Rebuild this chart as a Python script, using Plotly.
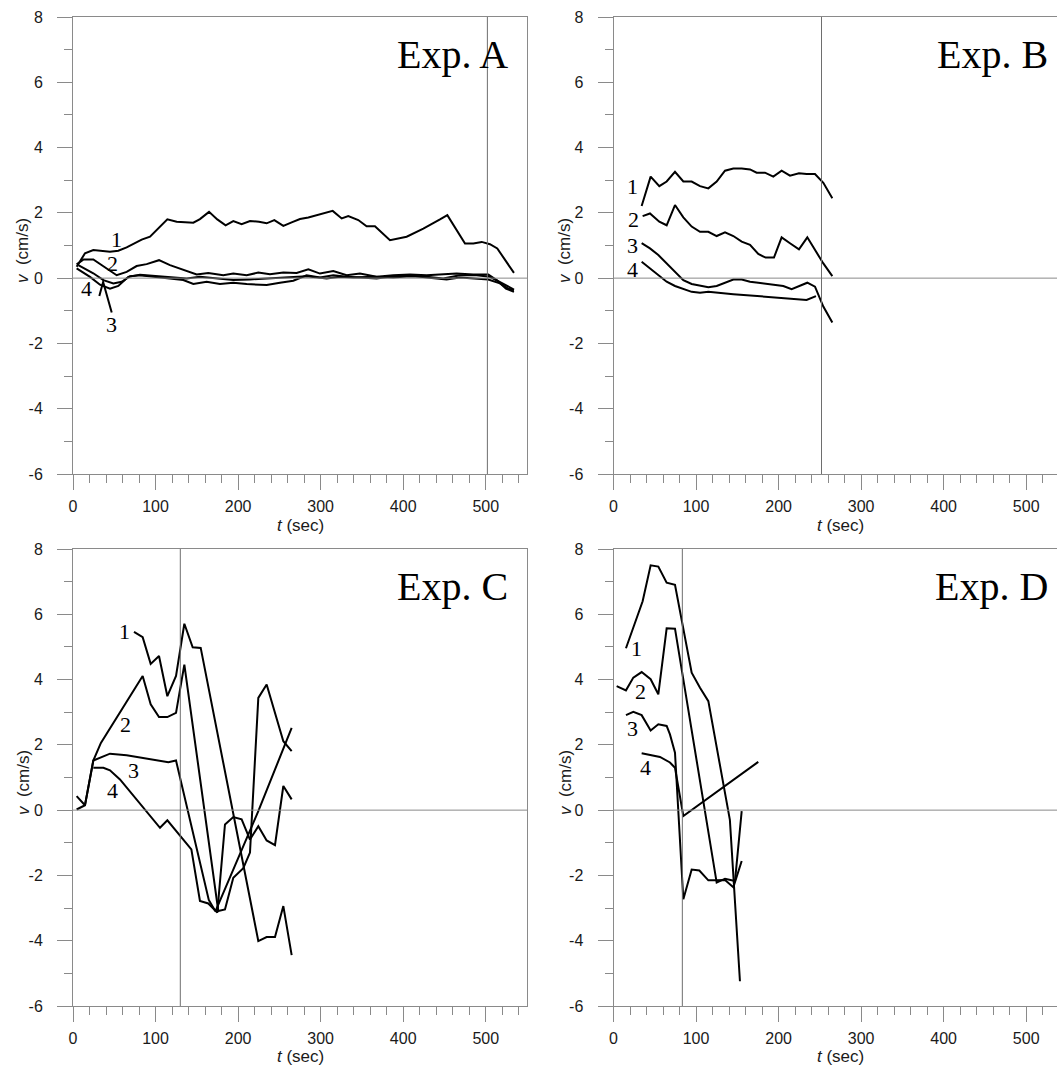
import plotly.graph_objects as go

# ---------------- data (t in sec, v in cm/s) ----------------
# Exp. A
A1_t = [4.4, 14.5, 24.6, 44.8, 54.9, 65.0, 83.2, 93.3, 114.3, 125.6, 145.8, 153.8, 164.8, 174.8, 184.9, 194.2, 204.3, 214.4, 225.3, 234.6, 243.9, 254.8, 264.9, 275.0, 285.1, 295.2, 305.3, 314.6, 325.5, 333.5, 345.6, 355.7, 365.8, 384.0, 404.2, 424.4, 444.6, 453.5, 474.9, 485.0, 495.1, 505.1, 514.0, 524.5, 534.2]
A1_v = [0.35, 0.76, 0.86, 0.81, 0.84, 0.94, 1.18, 1.27, 1.80, 1.73, 1.70, 1.81, 2.03, 1.80, 1.62, 1.75, 1.65, 1.75, 1.73, 1.68, 1.78, 1.60, 1.71, 1.81, 1.86, 1.93, 2.00, 2.06, 1.83, 1.90, 1.78, 1.59, 1.59, 1.16, 1.27, 1.52, 1.80, 1.93, 1.06, 1.06, 1.11, 1.04, 0.91, 0.50, 0.16]
A2_t = [4.4, 12.8, 24.6, 38.8, 52.9, 65.0, 77.1, 89.2, 104.2, 117.5, 133.6, 149.8, 163.9, 182.1, 194.2, 210.4, 224.5, 238.6, 254.8, 270.9, 285.1, 299.2, 315.3, 331.5, 347.6, 367.8, 388.0, 408.2, 428.4, 448.6, 464.7, 484.9, 503.1, 513.2, 524.5, 534.2]
A2_v = [0.42, 0.57, 0.57, 0.33, 0.09, 0.19, 0.37, 0.43, 0.55, 0.40, 0.25, 0.11, 0.16, 0.09, 0.14, 0.09, 0.17, 0.12, 0.17, 0.16, 0.27, 0.14, 0.22, 0.09, 0.14, 0.04, 0.09, 0.11, 0.09, 0.12, 0.14, 0.11, 0.11, -0.06, -0.32, -0.42]
A3_t = [6.4, 24.6, 36.8, 48.9, 59.0, 69.1, 81.2, 101.3, 117.5, 133.6, 145.8, 161.9, 178.0, 194.2, 210.4, 234.6, 250.7, 266.9, 283.0, 299.2, 315.3, 331.5, 347.6, 367.8, 388.0, 408.2, 428.4, 452.6, 468.7, 488.9, 503.1, 517.2, 527.3, 534.2]
A3_v = [0.40, 0.15, -0.06, -0.16, -0.11, 0.06, 0.09, 0.04, -0.01, -0.06, -0.18, -0.11, -0.18, -0.14, -0.18, -0.21, -0.14, -0.08, 0.09, 0.02, 0.09, 0.04, 0.02, -0.01, 0.06, 0.09, 0.02, -0.04, 0.02, -0.01, -0.04, -0.16, -0.32, -0.37]
A4_t = [4.4, 20.6, 32.7, 44.8, 54.9, 67.0, 81.2, 101.3, 121.5, 137.7, 153.8, 174.0, 194.2, 214.4, 234.6, 258.8, 283.0, 307.3, 323.4, 339.5, 363.8, 388.0, 408.2, 428.4, 448.6, 468.7, 488.9, 505.1, 521.3, 534.2]
A4_v = [0.30, 0.04, -0.20, -0.32, -0.24, 0.04, 0.10, 0.06, 0.04, -0.01, 0.04, -0.01, -0.06, -0.04, -0.01, 0.02, 0.06, -0.01, 0.04, 0.02, 0.04, 0.02, 0.06, 0.04, -0.01, 0.09, 0.09, 0.04, -0.18, -0.35]

# Exp. B
B1_t = [34.1, 45.0, 55.5, 64.4, 74.5, 84.6, 94.7, 104.8, 114.9, 125.0, 135.1, 145.2, 155.3, 165.4, 173.4, 183.5, 193.6, 203.7, 213.8, 224.7, 234.0, 244.1, 254.2, 265.1]
B1_v = [2.21, 3.11, 2.82, 2.96, 3.26, 2.96, 2.96, 2.82, 2.75, 2.96, 3.29, 3.36, 3.36, 3.33, 3.23, 3.23, 3.11, 3.29, 3.14, 3.21, 3.19, 3.19, 2.92, 2.45]
B2_t = [35.3, 44.2, 55.5, 64.4, 74.5, 84.6, 94.7, 104.8, 114.9, 125.0, 135.1, 145.2, 155.3, 165.4, 175.4, 184.3, 194.4, 203.7, 213.8, 224.7, 234.8, 244.1, 254.2, 265.1]
B2_v = [1.90, 1.98, 1.73, 1.62, 2.24, 1.86, 1.58, 1.42, 1.42, 1.29, 1.40, 1.29, 1.12, 1.02, 0.74, 0.63, 0.63, 1.25, 1.07, 0.88, 1.25, 0.86, 0.45, 0.06]
B3_t = [34.1, 44.2, 54.3, 64.4, 74.5, 84.6, 94.7, 104.8, 114.9, 125.0, 135.1, 145.2, 155.3, 165.4, 175.4, 185.5, 195.6, 205.7, 215.8, 225.9, 234.8, 244.1, 254.2, 265.1]
B3_v = [1.07, 0.91, 0.71, 0.45, 0.20, -0.06, -0.18, -0.24, -0.28, -0.24, -0.14, -0.04, -0.04, -0.11, -0.14, -0.18, -0.21, -0.24, -0.34, -0.24, -0.14, -0.26, -0.87, -1.36]
B4_t = [34.1, 44.2, 54.3, 64.4, 74.5, 84.6, 94.7, 104.8, 114.9, 145.2, 185.5, 209.7, 233.9, 245.3]
B4_v = [0.50, 0.30, 0.09, -0.11, -0.24, -0.34, -0.42, -0.45, -0.42, -0.49, -0.57, -0.62, -0.67, -0.55]

# Exp. C
C1_t = [73.9, 84.4, 94.1, 104.2, 114.3, 124.8, 134.9, 145.0, 154.7, 224.5, 234.6, 244.7, 254.8, 264.9]
C1_v = [5.46, 5.30, 4.48, 4.72, 3.49, 4.11, 5.71, 4.99, 4.97, -4.01, -3.89, -3.89, -2.94, -4.44]
C2_t = [4.4, 14.5, 24.6, 33.8, 84.4, 94.1, 104.2, 114.3, 124.8, 134.9, 176.0, 184.1, 194.2, 206.3, 214.4, 224.5, 234.6, 254.8, 264.9]
C2_v = [0.02, 0.15, 1.52, 2.06, 4.11, 3.24, 2.85, 2.85, 2.98, 4.46, -3.09, -3.04, -2.07, -1.78, -1.30, 3.44, 3.85, 2.11, 1.81]
C3_t = [4.4, 14.5, 24.6, 44.8, 65.0, 115.5, 124.8, 164.5, 172.5, 224.5, 264.9]
C3_v = [0.43, 0.15, 1.52, 1.73, 1.68, 1.47, 1.52, -2.75, -3.10, -0.03, 2.52]
C4_t = [24.6, 36.8, 44.8, 56.9, 105.4, 114.3, 143.4, 153.8, 163.9, 174.8, 184.1, 194.2, 204.3, 214.4, 224.5, 234.6, 244.7, 254.8, 264.9]
C4_v = [1.30, 1.30, 1.22, 0.94, -0.54, -0.31, -1.20, -2.78, -2.86, -3.14, -0.44, -0.21, -0.28, -0.90, -0.49, -0.93, -1.07, 0.74, 0.33]

# Exp. D
D1_t = [15.1, 35.3, 45.0, 54.3, 64.4, 74.5, 94.7, 104.8, 114.9, 141.0, 153.2]
D1_v = [4.96, 6.40, 7.50, 7.46, 6.97, 6.90, 4.21, 3.75, 3.34, -0.30, -5.24]
D2_t = [3.8, 15.1, 24.0, 34.1, 45.0, 54.3, 64.4, 74.5, 125.0, 135.1, 147.2, 155.3]
D2_v = [3.80, 3.67, 4.06, 4.23, 4.01, 3.55, 5.57, 5.56, -2.22, -2.10, -2.17, -0.03]
D3_t = [15.1, 24.0, 34.1, 45.0, 54.3, 64.4, 68.4, 74.5, 84.6, 94.7, 104.0, 114.9, 125.0, 135.1, 145.2, 155.3]
D3_v = [2.91, 3.01, 2.91, 2.44, 2.63, 2.58, 2.32, 1.76, -2.73, -1.82, -1.85, -2.15, -2.15, -2.14, -2.36, -1.56]
D4_t = [34.1, 56.3, 68.4, 74.5, 84.6, 175.4]
D4_v = [1.74, 1.63, 1.46, 1.30, -0.18, 1.48]

panel_names = ["Exp. A", "Exp. B", "Exp. C", "Exp. D"]
marker_t = [502, 252, 130, 83.4]          # thin vertical reference line per panel
curve_label_t = [[52.9, 48.1, 46.9, 16.6], [23.3, 24.0, 23.3, 23.3],
                 [61.8, 63.8, 73.1, 47.6], [27.3, 32.1, 22.8, 38.2]]
curve_label_v = [[1.17, 0.45, -1.43, -0.31], [2.82, 1.80, 1.01, 0.25],
                 [5.47, 2.63, 1.22, 0.59], [4.96, 3.65, 2.51, 1.32]]
curve_names = ["1", "2", "3", "4"]
x_ticks = [0, 100, 200, 300, 400, 500]
y_ticks = [-6, -4, -2, 0, 2, 4, 6, 8]
y_ticktext = ["-6", "-4", "-2", "0", "2", "4", "6", "8"]

series = [
    [(A1_t, A1_v), (A2_t, A2_v), (A3_t, A3_v), (A4_t, A4_v)],
    [(B1_t, B1_v), (B2_t, B2_v), (B3_t, B3_v), (B4_t, B4_v)],
    [(C1_t, C1_v), (C2_t, C2_v), (C3_t, C3_v), (C4_t, C4_v)],
    [(D1_t, D1_v), (D2_t, D2_v), (D3_t, D3_v), (D4_t, D4_v)],
]

# ---------------- layout geometry ----------------
W, H = 1057, 1066
def px2fx(p): return p / W
def py2fy(p): return 1 - p / H

left_dom = [px2fx(73), px2fx(527)]
right_dom = [px2fx(613.5), 1.0]
top_dom = [py2fy(474), py2fy(17)]
bot_dom = [py2fy(1006), py2fy(549)]
x_doms = [left_dom, right_dom, left_dom, right_dom]
y_doms = [top_dom, top_dom, bot_dom, bot_dom]
x_ranges = [[0, 550], [0, 537.3], [0, 550], [0, 537.3]]
xtitle_px = [(300, 525), (840, 525), (300, 1056), (840, 1056)]
ytitle_px = [(23, 251), (565, 251), (23, 783), (565, 783)]

GRAY = "#8a8a8a"
SANS = "Arial, Liberation Sans, sans-serif"
TICKFONT = dict(family=SANS, size=16, color="#1a1a1a")
TITLEFONT = dict(family=SANS, size=17, color="#1a1a1a")
SERIF = "Times New Roman, Liberation Serif, serif"

fig = go.Figure()
layout = dict(width=W, height=H, margin=dict(l=0, r=0, t=0, b=0),
              plot_bgcolor="white", paper_bgcolor="white", showlegend=False)
annotations = []
shapes = []

for i in range(4):
    xa = "x" if i == 0 else f"x{i+1}"
    ya = "y" if i == 0 else f"y{i+1}"
    xkey = "xaxis" if i == 0 else f"xaxis{i+1}"
    ykey = "yaxis" if i == 0 else f"yaxis{i+1}"
    for (t, v) in series[i]:
        fig.add_trace(go.Scatter(x=t, y=v, mode="lines", xaxis=xa, yaxis=ya,
                                 line=dict(color="black", width=2), hoverinfo="skip"))
    layout[xkey] = dict(domain=x_doms[i], range=x_ranges[i], anchor=ya,
                        tickmode="array", tickvals=x_ticks, ticks="outside", ticklen=15,
                        tickcolor=GRAY, tickwidth=1, showline=True, linecolor=GRAY, linewidth=1,
                        mirror=True, showgrid=False, zeroline=False, tickfont=TICKFONT,
                        ticklabelstandoff=3,
                        minor=dict(dtick=20, tick0=0, ticks="outside", ticklen=8,
                                   tickcolor=GRAY, tickwidth=1, showgrid=False),
                        automargin=False, fixedrange=True)
    layout[ykey] = dict(domain=y_doms[i], range=[-6, 8], anchor=xa,
                        tickmode="array", tickvals=y_ticks, ticktext=y_ticktext,
                        ticks="outside", ticklen=15,
                        tickcolor=GRAY, tickwidth=1, showline=True, linecolor=GRAY, linewidth=1,
                        mirror=(i in (0, 2)), showgrid=False, zeroline=False, tickfont=TICKFONT,
                        ticklabelstandoff=11,
                        minor=dict(dtick=1, tick0=0, ticks="outside", ticklen=8,
                                   tickcolor=GRAY, tickwidth=1, showgrid=False),
                        automargin=False, fixedrange=True)
    # axis titles
    annotations.append(dict(text="<i>t</i> (sec)", xref="paper", yref="paper",
                            x=px2fx(xtitle_px[i][0]), y=py2fy(xtitle_px[i][1]),
                            xanchor="center", yanchor="middle", showarrow=False, font=TITLEFONT))
    annotations.append(dict(text="<i>v</i>  (cm/s)", xref="paper", yref="paper", textangle=-90,
                            x=px2fx(ytitle_px[i][0]), y=py2fy(ytitle_px[i][1]),
                            xanchor="center", yanchor="middle", showarrow=False, font=TITLEFONT))
    # reference lines: v = 0 and marker time
    shapes.append(dict(type="line", xref=xa, yref=ya, x0=x_ranges[i][0], x1=x_ranges[i][1],
                       y0=0, y1=0, line=dict(color=GRAY, width=1)))
    shapes.append(dict(type="line", xref=xa, yref=ya, x0=marker_t[i], x1=marker_t[i],
                       y0=-6, y1=8, line=dict(color="#6e6e6e", width=1)))
    # panel title
    annotations.append(dict(text=panel_names[i], xref=xa, yref=ya, x=529, y=6.85,
                            xanchor="right", yanchor="middle", showarrow=False,
                            font=dict(family=SERIF, size=40, color="black")))
    # curve labels
    for k in range(4):
        annotations.append(dict(text=curve_names[k], xref=xa, yref=ya,
                                x=curve_label_t[i][k], y=curve_label_v[i][k],
                                xanchor="center", yanchor="middle", showarrow=False,
                                font=dict(family=SERIF, size=22, color="black")))

# leader strokes by label "3" in Exp. A
shapes.append(dict(type="path", xref="x", yref="y",
                   path="M 31.9,-0.55 L 36.5,-0.12 L 46.9,-1.05",
                   line=dict(color="black", width=2)))

layout["annotations"] = annotations
layout["shapes"] = shapes
fig.update_layout(**layout)
fig.write_html("out.html", config={"displayModeBar": False},
               post_script="document.body.style.margin='0px';document.body.style.overflow='hidden';")
